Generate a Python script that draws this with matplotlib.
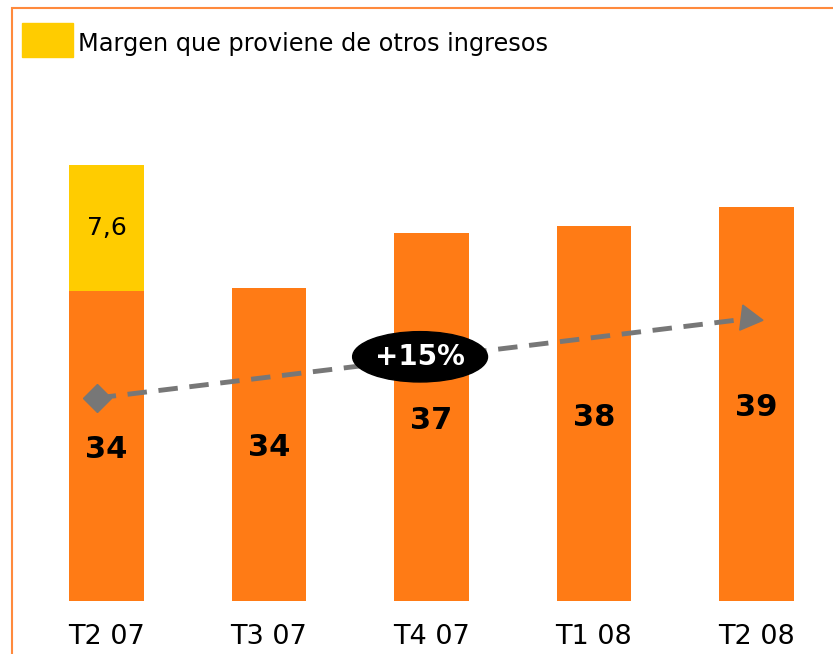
import matplotlib
matplotlib.use("Agg")
import matplotlib.pyplot as plt
import matplotlib.patches as mpatches

# data
quarters = ["T2 07", "T3 07", "T4 07", "T1 08", "T2 08"]
margin = [33.9, 34.1, 37.4, 37.8, 39.0]
margin_labels = ["34", "34", "37", "38", "39"]
other_income = [7.6, 0, 0, 0, 0]
other_labels = ["7,6", "", "", "", ""]
trend_start = 27.4
trend_end = 32.25
trend_label = "+15%"
legend_text = "Margen que proviene de otros ingresos"

ORANGE = "#FF7B15"
YELLOW = "#FFCC00"
GREY = "#777777"

base = 15.1  # bars start above zero in the original

fig = plt.figure(figsize=(8.33, 6.54), dpi=100)
ax = fig.add_axes([0, 1 - 601 / 654, 1, 601 / 654])
ax.set_xlim(-0.655, 4.471)
ax.set_ylim(base, base + 601 / 16.5)
ax.axis("off")

x = list(range(len(quarters)))
heights = [m - base for m in margin]
ax.bar(x, heights, bottom=base, width=0.46, color=ORANGE, zorder=1)
ax.bar(x, other_income, bottom=margin, width=0.46, color=YELLOW, zorder=1)

for i in x:
    ax.text(i, base + 0.49 * heights[i], margin_labels[i], ha="center", va="center",
            fontsize=22, fontweight="bold", color="black", zorder=5)
    if other_income[i] > 0:
        ax.text(i, margin[i] + other_income[i] / 2, other_labels[i], ha="center", va="center",
                fontsize=18, color="black", zorder=5)
    # quarter labels right at the bottom edge
    ax.text(i, base - 2.2, quarters[i], ha="center", va="center", fontsize=19.5,
            color="black", clip_on=False)

# trend arrow
x0, x1 = -0.06, 3.95
ax.plot([x0, x1 - 0.05], [trend_start, trend_end - 0.1], ls=(0, (4, 2.4)), lw=3.5,
        color=GREY, zorder=3)
ax.plot([x0], [trend_start], marker="D", ms=14, color=GREY, zorder=4)
ax.plot([x1], [trend_end], marker=(3, 0, -97), ms=21, color=GREY, zorder=4)

ell = mpatches.Ellipse((1.93, 29.9), 0.83, 3.05, color="black", zorder=6)
ax.add_patch(ell)
ax.text(1.93, 29.9, trend_label, ha="center", va="center", fontsize=20,
        fontweight="bold", color="white", zorder=7)

# legend
fig.patches.append(mpatches.Rectangle((22 / 833, 1 - 57 / 654), 51 / 833, 34 / 654,
                                      transform=fig.transFigure, color=YELLOW))
fig.text(78 / 833, 1 - 44 / 654, legend_text, ha="left", va="center", fontsize=17.3)

# outer frame, cut off at right and bottom
fig.patches.append(mpatches.Rectangle((12 / 833, -0.1), 1.2, 1 - 8 / 654 + 0.1,
                                      transform=fig.transFigure, fill=False,
                                      edgecolor="#FF8A3D", lw=1.5))

fig.savefig("out.png", dpi=100)
